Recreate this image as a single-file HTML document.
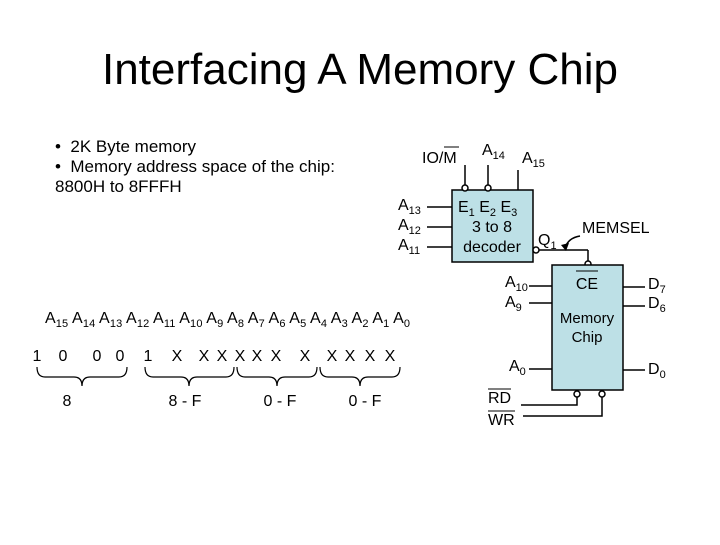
<!DOCTYPE html>
<html><head><style>html,body{margin:0;padding:0;background:#fff}</style></head><body>
<svg width="720" height="540" xmlns="http://www.w3.org/2000/svg" font-family="Liberation Sans, sans-serif" fill="#000">
<text x="360" y="84" font-size="44" text-anchor="middle">Interfacing A Memory Chip</text>
<g font-size="17">
<text x="55" y="152">• &#160;2K Byte memory</text>
<text x="55" y="172">• &#160;Memory address space of the chip:</text>
<text x="55" y="192">8800H to 8FFFH</text>
</g>
<!-- decoder -->
<rect x="452" y="190" width="81" height="72" fill="#bde0e6" stroke="#000" stroke-width="1.5"/>
<g stroke="#000" stroke-width="1.5" fill="none">
<line x1="465" y1="165" x2="465" y2="186"/><circle cx="465" cy="188" r="3" fill="#fff"/>
<line x1="488" y1="165" x2="488" y2="186"/><circle cx="488" cy="188" r="3" fill="#fff"/>
<line x1="518" y1="170" x2="518" y2="190"/>
<line x1="427" y1="207" x2="452" y2="207"/>
<line x1="427" y1="227" x2="452" y2="227"/>
<line x1="427" y1="247" x2="452" y2="247"/>
<circle cx="536" cy="250" r="3" fill="#fff"/>
<line x1="539" y1="250" x2="588" y2="250"/><line x1="588" y1="250" x2="588" y2="261"/>
<circle cx="588" cy="264" r="3" fill="#fff"/>
<path d="M580 236 Q568 238 565 248"/>
</g>
<path d="M561 245 L566 251 L569 243 Z"/>
<g font-size="16">
<text x="422" y="163">IO/M</text>
<line x1="444" y1="147" x2="459" y2="147" stroke="#000" stroke-width="1"/>
<text x="482" y="155">A<tspan font-size="11" dy="4">14</tspan></text>
<text x="522" y="163">A<tspan font-size="11" dy="4">15</tspan></text>
<text x="398" y="210">A<tspan font-size="11" dy="4">13</tspan></text>
<text x="398" y="230">A<tspan font-size="11" dy="4">12</tspan></text>
<text x="398" y="250">A<tspan font-size="11" dy="4">11</tspan></text>
<text x="458" y="212">E<tspan font-size="11" dy="4">1</tspan><tspan dy="-4"> E</tspan><tspan font-size="11" dy="4">2</tspan><tspan dy="-4">  E</tspan><tspan font-size="11" dy="4">3</tspan></text>
<text x="492" y="232" text-anchor="middle">3 to 8</text>
<text x="492" y="252" text-anchor="middle">decoder</text>
<text x="538" y="245">Q<tspan font-size="11" dy="4">1</tspan></text>
<text x="582" y="233">MEMSEL</text>
</g>
<!-- memory chip -->
<rect x="552" y="265" width="71" height="125" fill="#bde0e6" stroke="#000" stroke-width="1.5"/>
<g stroke="#000" stroke-width="1.5" fill="none">
<line x1="529" y1="286" x2="552" y2="286"/>
<line x1="529" y1="303" x2="552" y2="303"/>
<line x1="529" y1="369" x2="552" y2="369"/>
<line x1="623" y1="287" x2="645" y2="287"/>
<line x1="623" y1="306" x2="645" y2="306"/>
<line x1="623" y1="370" x2="645" y2="370"/>
<circle cx="577" cy="394" r="3" fill="#fff"/><circle cx="602" cy="394" r="3" fill="#fff"/>
<polyline points="521,405 577,405 577,397"/>
<polyline points="523,416 602,416 602,397"/>
</g>
<g font-size="16">
<text x="587" y="289" text-anchor="middle">CE</text>
<line x1="576" y1="271" x2="598" y2="271" stroke="#000" stroke-width="1"/>
<text x="587" y="323" text-anchor="middle" font-size="15">Memory</text>
<text x="587" y="342" text-anchor="middle" font-size="15">Chip</text>
<text x="505" y="287">A<tspan font-size="11" dy="4">10</tspan></text>
<text x="505" y="307">A<tspan font-size="11" dy="4">9</tspan></text>
<text x="509" y="371">A<tspan font-size="11" dy="4">0</tspan></text>
<text x="648" y="289">D<tspan font-size="11" dy="4">7</tspan></text>
<text x="648" y="308">D<tspan font-size="11" dy="4">6</tspan></text>
<text x="648" y="374">D<tspan font-size="11" dy="4">0</tspan></text>
<text x="488" y="403">RD</text>
<line x1="488" y1="389" x2="511" y2="389" stroke="#000" stroke-width="1"/>
<text x="488" y="425">WR</text>
<line x1="488" y1="411" x2="515" y2="411" stroke="#000" stroke-width="1"/>
</g>
<!-- address row -->
<text x="45" y="323" font-size="16" textLength="365" lengthAdjust="spacing">A<tspan font-size="11" dy="4">15</tspan><tspan dy="-4"> A</tspan><tspan font-size="11" dy="4">14</tspan><tspan dy="-4"> A</tspan><tspan font-size="11" dy="4">13</tspan><tspan dy="-4"> A</tspan><tspan font-size="11" dy="4">12</tspan><tspan dy="-4"> A</tspan><tspan font-size="11" dy="4">11</tspan><tspan dy="-4"> A</tspan><tspan font-size="11" dy="4">10</tspan><tspan dy="-4"> A</tspan><tspan font-size="11" dy="4">9</tspan><tspan dy="-4"> A</tspan><tspan font-size="11" dy="4">8</tspan><tspan dy="-4"> A</tspan><tspan font-size="11" dy="4">7</tspan><tspan dy="-4"> A</tspan><tspan font-size="11" dy="4">6</tspan><tspan dy="-4"> A</tspan><tspan font-size="11" dy="4">5</tspan><tspan dy="-4"> A</tspan><tspan font-size="11" dy="4">4</tspan><tspan dy="-4"> A</tspan><tspan font-size="11" dy="4">3</tspan><tspan dy="-4"> A</tspan><tspan font-size="11" dy="4">2</tspan><tspan dy="-4"> A</tspan><tspan font-size="11" dy="4">1</tspan><tspan dy="-4"> A</tspan><tspan font-size="11" dy="4">0</tspan></text>
<g font-size="16" text-anchor="middle">
<text x="37" y="361">1</text><text x="63" y="361">0</text><text x="97" y="361">0</text><text x="120" y="361">0</text><text x="148" y="361">1</text>
<text x="177" y="361">X</text><text x="204" y="361">X</text><text x="222" y="361">X</text><text x="240" y="361">X</text><text x="257" y="361">X</text><text x="276" y="361">X</text><text x="305" y="361">X</text><text x="332" y="361">X</text><text x="350" y="361">X</text><text x="370" y="361">X</text><text x="390" y="361">X</text>
<text x="67" y="406">8</text><text x="185" y="406">8 - F</text><text x="280" y="406">0 - F</text><text x="365" y="406">0 - F</text>
</g>
<g stroke="#000" stroke-width="1.2" fill="none">
<path d="M37 367 Q37 377 45 377 L74 377 Q82 377 82 386 Q82 377 90 377 L119 377 Q127 377 127 367"/>
<path d="M145 367 Q145 377 153 377 L181 377 Q189 377 189 386 Q189 377 197 377 L226 377 Q234 377 234 367"/>
<path d="M237 367 Q237 377 245 377 L269 377 Q277 377 277 386 Q277 377 285 377 L309 377 Q317 377 317 367"/>
<path d="M320 367 Q320 377 328 377 L352 377 Q360 377 360 386 Q360 377 368 377 L392 377 Q400 377 400 367"/>
</g>
</svg>
</body></html>
